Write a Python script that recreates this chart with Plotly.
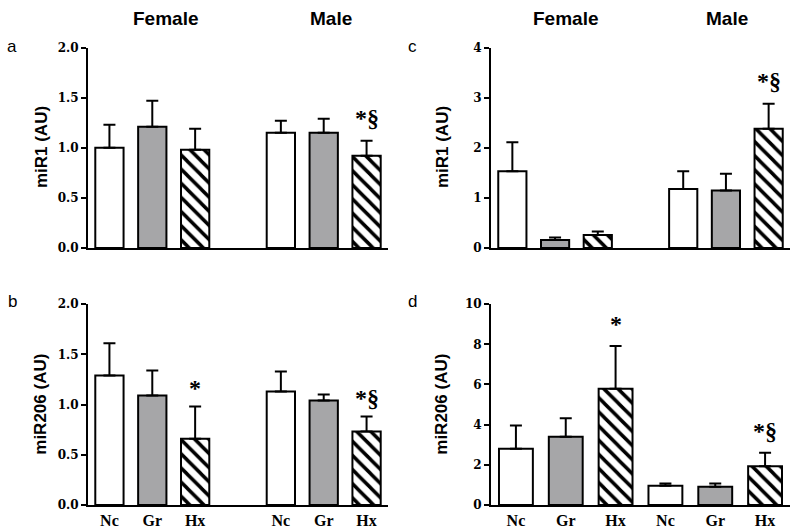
import plotly.graph_objects as go

groups = ["Nc", "Gr", "Hx"]
sexes = ["Female", "Male"]

# panel a: miR1 (left)
a_mean = [1.00, 1.21, 0.98, 1.15, 1.15, 0.92]
a_err = [0.23, 0.26, 0.21, 0.12, 0.14, 0.15]
# panel b: miR206 (left)
b_mean = [1.29, 1.09, 0.66, 1.13, 1.04, 0.73]
b_err = [0.32, 0.25, 0.32, 0.20, 0.06, 0.15]
# panel c: miR1 (right)
c_mean = [1.53, 0.16, 0.26, 1.18, 1.15, 2.38]
c_err = [0.58, 0.05, 0.07, 0.35, 0.33, 0.50]
# panel d: miR206 (right)
d_mean = [2.80, 3.40, 5.78, 0.95, 0.90, 1.92]
d_err = [1.15, 0.92, 2.14, 0.12, 0.17, 0.68]

pos_gap = [0, 1, 2, 4, 5, 6]
pos_even = [0, 1, 2, 3, 4, 5]

FILL = ["white", "#a6a6a8", "white"]
PATTERN = ["", "", "\\"]

W, H = 800, 530


def px(x):
    return x / W


def py(y):
    return 1 - ((y - 5.7) / 0.975) / H


fig = go.Figure()


def add_panel(means, errs, pos, xa, ya, width):
    for i in range(6):
        g = i % 3
        fig.add_trace(go.Bar(
            x=[pos[i]], y=[means[i]], width=width,
            marker=dict(color=FILL[g], line=dict(color="black", width=2),
                        pattern=dict(shape=PATTERN[g], fgcolor="black", bgcolor="white",
                                     fgopacity=1, size=10, solidity=0.35)),
            error_y=dict(type="data", symmetric=False, array=[errs[i]], arrayminus=[0],
                         color="black", thickness=2, width=6),
            xaxis=xa, yaxis=ya, showlegend=False, hoverinfo="skip"))


add_panel(a_mean, a_err, pos_gap, "x", "y", 0.66)
add_panel(b_mean, b_err, pos_gap, "x2", "y2", 0.66)
add_panel(c_mean, c_err, pos_gap, "x3", "y3", 0.66)
add_panel(d_mean, d_err, pos_even, "x4", "y4", 0.68)

tickfont = dict(family="DejaVu Serif", size=12, color="black", weight="bold")
xlabfont = dict(family="Liberation Serif", size=16, color="black", weight="bold")


def xaxis_cfg(domain, rng, tickvals, show):
    return dict(domain=domain, range=rng, showline=True, linecolor="black", linewidth=2,
                showgrid=False, zeroline=False, ticks="",
                tickvals=tickvals, ticktext=(groups * 2) if show else [""] * 6,
                showticklabels=show, tickfont=xlabfont)


def yaxis_cfg(domain, rng, dtick, fmt, anchor):
    return dict(domain=domain, range=rng, showline=True, linecolor="black", linewidth=2,
                showgrid=False, zeroline=False, ticks="outside", ticklen=5, tickwidth=2,
                tickcolor="black", dtick=dtick, tick0=0, tickformat=fmt,
                tickfont=tickfont, anchor=anchor)


L = [px(88), px(388)]
R = [px(491), px(790)]
TOP = [py(247), py(46.5)]
BOT = [py(504.3), py(303.3)]

fig.update_layout(
    width=W, height=H, margin=dict(l=0, r=0, t=0, b=0),
    paper_bgcolor="white", plot_bgcolor="white", barmode="overlay",
    xaxis=dict(xaxis_cfg(L, [-0.5, 6.5], pos_gap, False), anchor="y"),
    yaxis=yaxis_cfg(TOP, [0, 2], 0.5, ".1f", "x"),
    xaxis2=dict(xaxis_cfg(L, [-0.5, 6.5], pos_gap, True), anchor="y2"),
    yaxis2=yaxis_cfg(BOT, [0, 2], 0.5, ".1f", "x2"),
    xaxis3=dict(xaxis_cfg(R, [-0.5, 6.5], pos_gap, False), anchor="y3"),
    yaxis3=yaxis_cfg(TOP, [0, 4], 1, "d", "x3"),
    xaxis4=dict(xaxis_cfg(R, [-0.5, 5.5], pos_even, True), anchor="y4"),
    yaxis4=yaxis_cfg(BOT, [0, 10], 2, "d", "x4"),
)

ann = []
hdr = dict(family="Liberation Sans", size=19, color="black")
for x, t in [(165, "<b>Female</b>"), (331, "<b>Male</b>"), (565, "<b>Female</b>"), (727, "<b>Male</b>")]:
    ann.append(dict(x=px(x), y=py(17), xref="paper", yref="paper", text=t,
                    showarrow=False, font=hdr, xanchor="center", yanchor="middle"))
letf = dict(family="Liberation Sans", size=17, color="black")
for x, y, t in [(12, 45, "a"), (12, 301, "b"), (412, 45, "c"), (412, 301, "d")]:
    ann.append(dict(x=px(x), y=py(y), xref="paper", yref="paper", text=t,
                    showarrow=False, font=letf, xanchor="center", yanchor="middle"))
ytf = dict(family="Liberation Sans", size=17, color="black")
for x, y, t in [(41, 146, "<b>miR1 (AU)</b>"), (41, 404, "<b>miR206 (AU)</b>"),
                (442, 146, "<b>miR1 (AU)</b>"), (442, 404, "<b>miR206 (AU)</b>")]:
    ann.append(dict(x=px(x), y=py(y), xref="paper", yref="paper", text=t,
                    showarrow=False, font=ytf, textangle=-90, xanchor="center", yanchor="middle"))

sig = dict(family="Liberation Serif", size=24, color="black")
for xa, ya, x, y, t in [("x", "y", 6, 1.30, "<b>*§</b>"), ("x2", "y2", 2, 1.16, "<b>*</b>"),
                        ("x2", "y2", 6, 1.06, "<b>*§</b>"), ("x3", "y3", 6, 3.34, "<b>*§</b>"),
                        ("x4", "y4", 2, 9.0, "<b>*</b>"), ("x4", "y4", 5, 3.7, "<b>*§</b>")]:
    ann.append(dict(x=x, y=y, xref=xa, yref=ya, text=t, showarrow=False, font=sig,
                    xanchor="center", yanchor="middle"))

fig.update_layout(annotations=ann)
fig.write_html("out.html", config={"displayModeBar": False},
               post_script="document.body.style.margin='0';document.body.style.overflow='hidden';")
